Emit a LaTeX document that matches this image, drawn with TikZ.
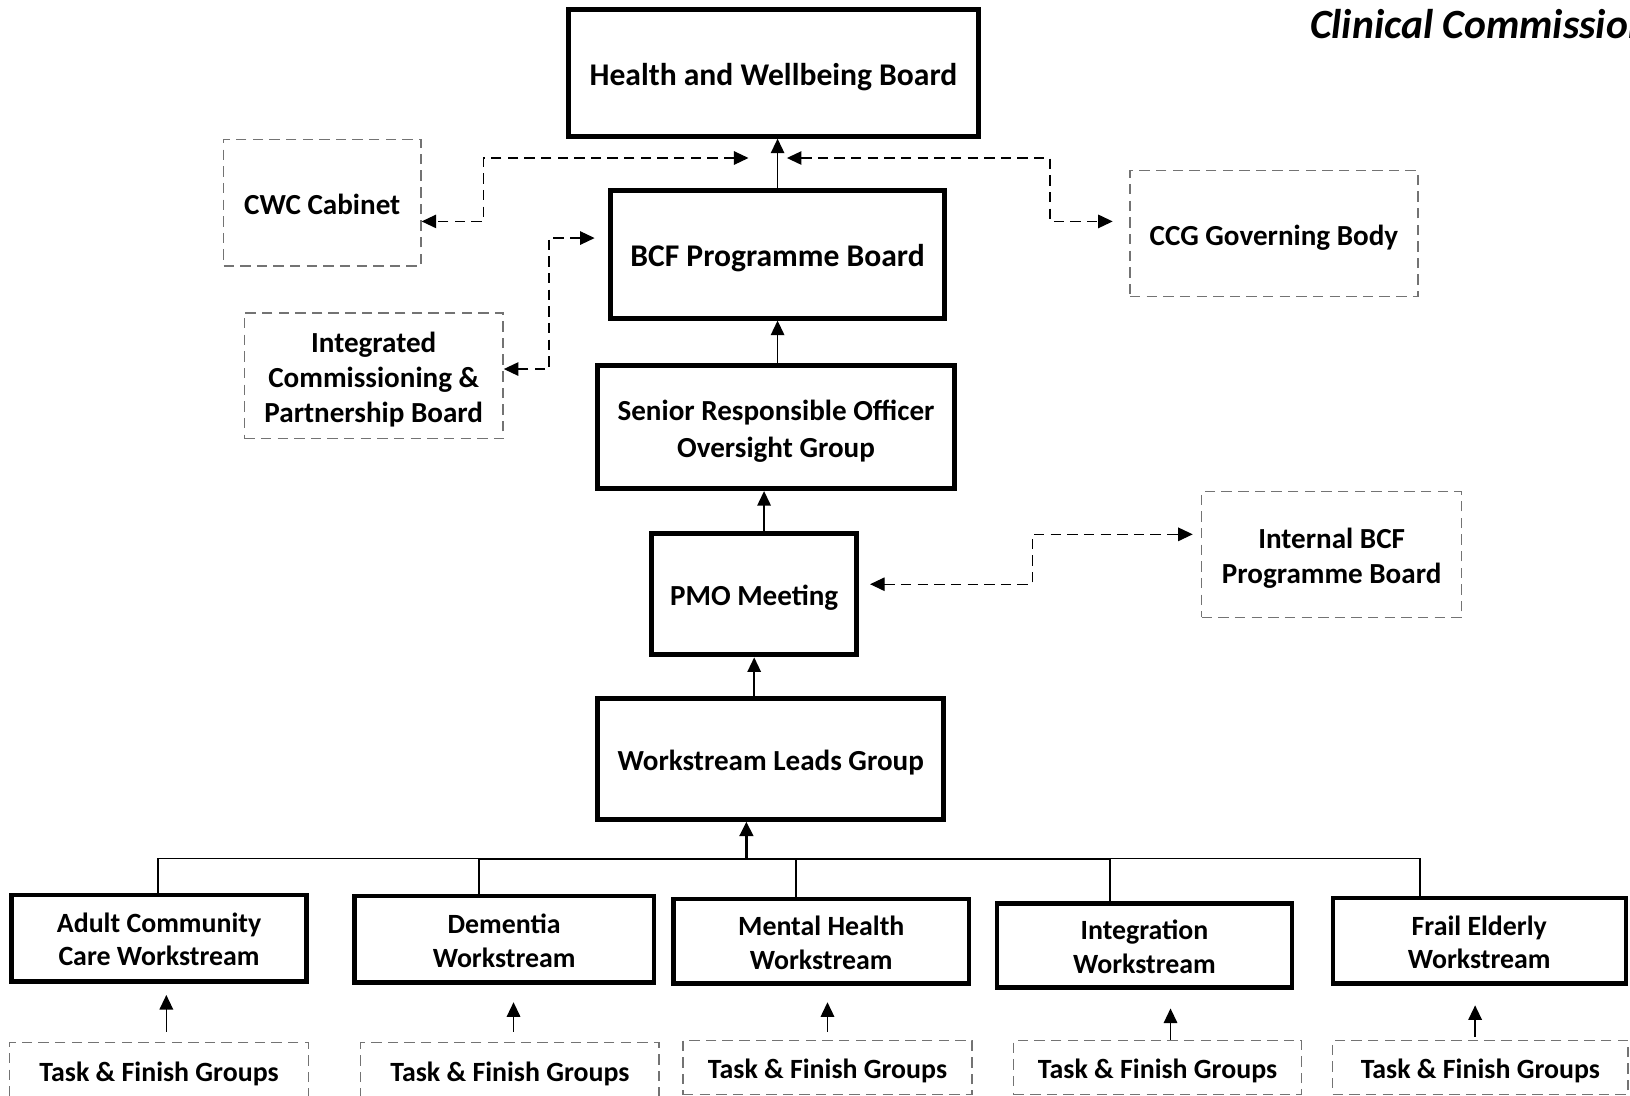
\documentclass[tikz,border=0pt]{standalone}
\usepackage{fontspec}
\setmainfont{Carlito}
\usetikzlibrary{arrows.meta,calc}

% struts so the text sits a little low in its box
\newcommand{\hiStrut}{\rule{0pt}{1.05em}}
\newcommand{\loStrut}{\rule[-0.25em]{0pt}{0.25em}}

\tikzset{
  board/.style={draw, line width=4.8pt, align=center, inner sep=0pt, font=\fontsize{28}{35}\selectfont\bfseries},
  bigboard/.style={board, font=\fontsize{30.4}{36}\selectfont\bfseries},
  stream/.style={draw, line width=4.2pt, align=center, inner sep=0pt, font=\fontsize{26.8}{32}\selectfont\bfseries},
  forum/.style={draw=black!55, dash pattern=on 10pt off 6pt, line width=1.3pt, align=center, inner sep=0pt, font=\fontsize{28}{34}\selectfont\bfseries},
  taskbox/.style={forum, font=\fontsize{26.8}{32}\selectfont\bfseries},
  up/.style={-{Triangle[length=14pt,width=13pt]}, line width=1.4pt},
  link/.style={{Triangle[length=14pt,width=13pt]}-{Triangle[length=14pt,width=13pt]}, dash pattern=on 10pt off 6pt, line width=1.2pt},
}

\begin{document}
\begin{tikzpicture}[x=1pt,y=1pt,yscale=-1,xscale=1]
\useasboundingbox (0,0) rectangle (1568,1054);

% boards in the middle column
\node[bigboard, minimum width=394, minimum height=122] (hwb) at (744,70) {\hiStrut Health and Wellbeing Board\loStrut};
\node[bigboard, minimum width=322, minimum height=123] (bcf) at (748,244.5) {\hiStrut BCF Programme Board\loStrut};
\node[board, minimum width=343, minimum height=118] (sro) at (746.5,411) {\hiStrut Senior Responsible Officer\\Oversight Group\loStrut};
\node[board, minimum width=197, minimum height=117] (pmo) at (725.5,571.5) {\hiStrut PMO Meeting\loStrut};
\node[board, minimum width=333, minimum height=116] (wlg) at (741.5,730) {\hiStrut Workstream Leads Group\loStrut};

% side forums
\node[forum, minimum width=190, minimum height=122] (cwc) at (310,195) {\hiStrut CWC Cabinet\loStrut};
\node[forum, minimum width=249, minimum height=121] (icpb) at (359.5,361.5) {\hiStrut Integrated\\Commissioning \&\\Partnership Board\loStrut};
\node[forum, minimum width=277, minimum height=121] (ccg) at (1225.5,224.5) {\hiStrut CCG Governing Body\loStrut};
\node[forum, minimum width=250, minimum height=121] (ibcf) at (1281,533.5) {\hiStrut Internal BCF\\Programme Board\loStrut};

% workstreams
\node[stream, minimum width=284, minimum height=83] (ws1) at (153,902.5) {\hiStrut Adult Community\\Care Workstream\loStrut};
\node[stream, minimum width=288, minimum height=83] (ws2) at (485,903.5) {\hiStrut Dementia\\Workstream\loStrut};
\node[stream, minimum width=284, minimum height=81] (ws3) at (790,905.5) {\hiStrut Mental Health\\Workstream\loStrut};
\node[stream, minimum width=284, minimum height=81] (ws4) at (1101,909.5) {\hiStrut Integration\\Workstream\loStrut};
\node[stream, minimum width=282, minimum height=82] (ws5) at (1423,905) {\hiStrut Frail Elderly\\Workstream\loStrut};

% task and finish groups
\foreach \i/\x/\y/\w/\h in {1/153/1030/288/54, 2/490.5/1030/287/54, 3/796/1027/278/52, 4/1113.5/1027/277/52, 5/1424/1027/284/52}
  \node[taskbox, minimum width=\w, minimum height=\h] (tfg\i) at (\x,\y) {\hiStrut Task \& Finish Groups\loStrut};

% header
\node[anchor=base west, inner sep=0pt, font=\fontsize{40}{40}\selectfont\bfseries\itshape] (title) at (1260,37) {Clinical Commissioning};

% reporting lines
\draw[up] (bcf.north) -- (bcf.north |- hwb.south);
\draw[up] (sro.north -| bcf.north) -- (bcf.south);
\draw[up] ($(pmo.north)+(9.5,0)$) coordinate (pu) -- (pu |- sro.south);
\draw[up] (wlg.north -| pmo.south) -- (pmo.south);

\coordinate (hub) at (718,826);
\foreach \ws/\dx/\lw in {ws1/-1/1.2, ws2/-24/2.2, ws3/-24/2.2, ws4/-33/2.2, ws5/-57/1.2}
  \draw[line width=\lw pt] ($(\ws.north)+(\dx,0)$) |- (hub);
\draw[up, line width=3.2pt] (hub) -- (hub |- wlg.south);

\foreach \i/\dx/\gap/\sh in {1/7/10/11, 2/3.5/10/17, 3/0/8/16, 4/12.5/0/18, 5/-5/3/19}
  \draw[up, shorten >=\sh pt] ($(tfg\i.north)+(\dx,-\gap)$) coordinate (tu) -- (tu |- ws\i.south);

% dashed links
\coordinate (hwbL) at (720,152);
\coordinate (hwbR) at (757,152);
\coordinate (bcfL) at (572,229);
\coordinate (pmoR) at (837,562);
\draw[link] (hwbL) -- (465,152) |- ($(cwc.east)+(0,18)$);
\draw[link] (bcfL) -- (528,229) |- ($(icpb.east)+(0,-6.5)$);
\draw[link] (hwbR) -- (1010,152) |- ($(ccg.west)+(-16,-11.5)$);
\draw[link] (pmoR) -- (993,562) |- ($(ibcf.west)+(-8,-19.5)$);
\end{tikzpicture}
\end{document}
